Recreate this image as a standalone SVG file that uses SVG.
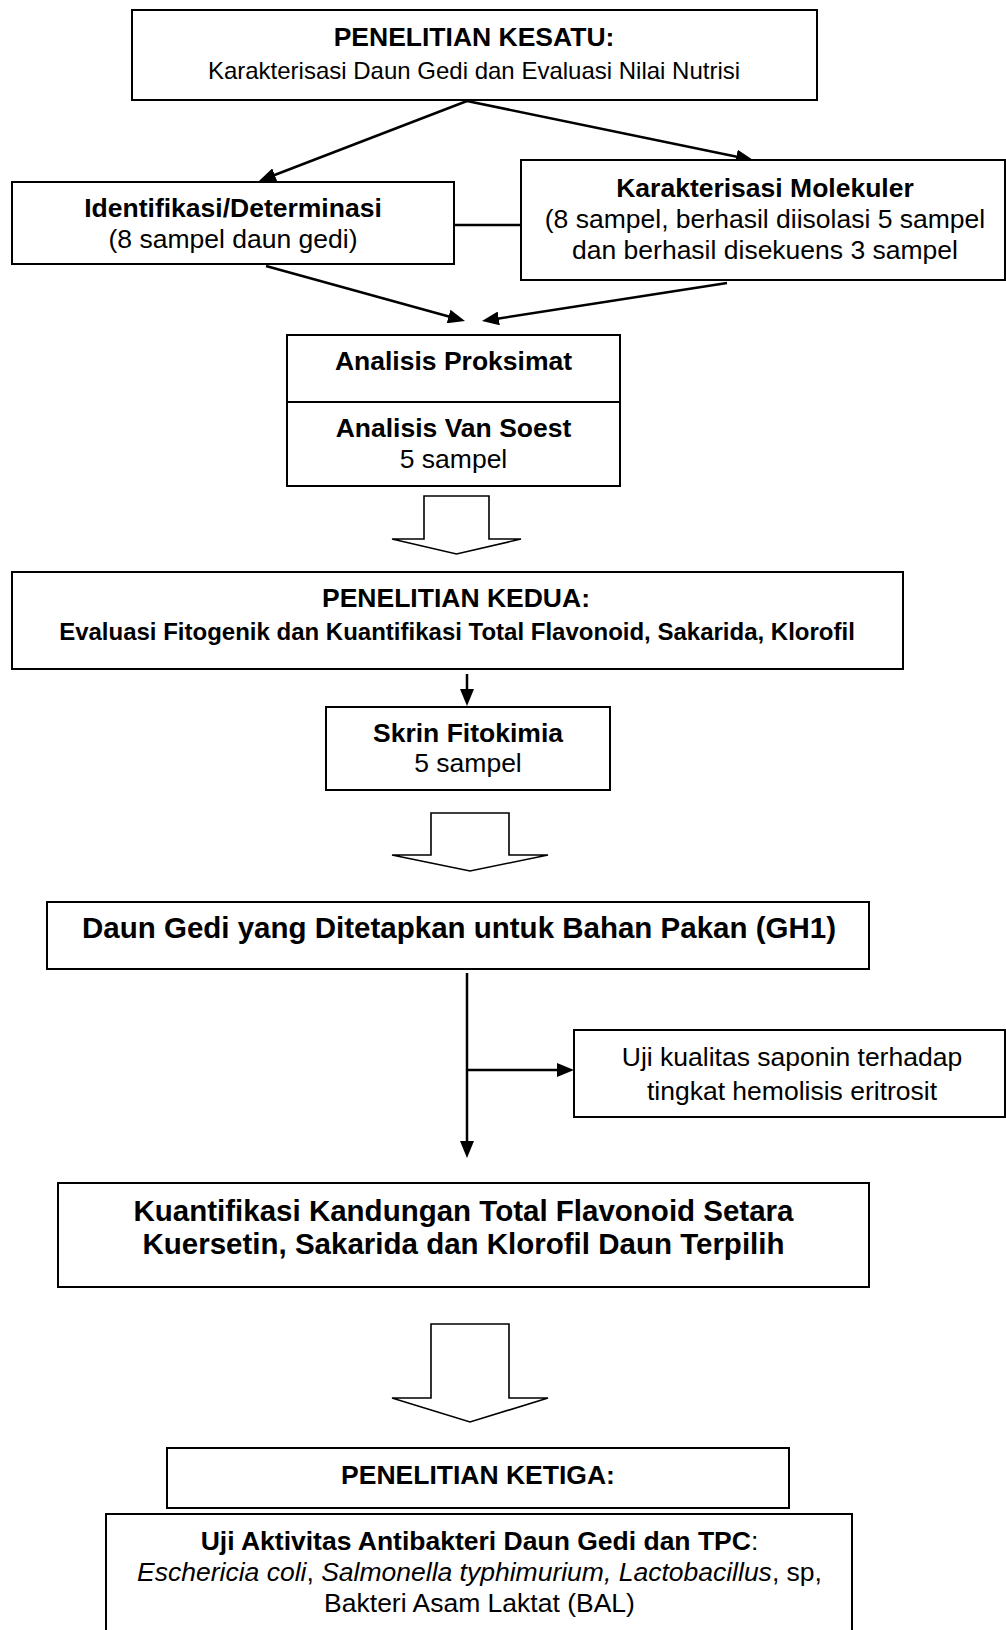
<svg xmlns="http://www.w3.org/2000/svg" width="1006" height="1630" viewBox="0 0 1006 1630">
<style>
text{font-family:"Liberation Sans",Arial,sans-serif;fill:#000;text-anchor:middle}
.b{font-weight:bold;font-size:26.5px}
.r{font-size:26.5px}
.sub{font-size:24px}
.b24{font-weight:bold;font-size:24px}
.big{font-weight:bold;font-size:29.5px}
.box{fill:#fff;stroke:#000;stroke-width:2}
.blk{fill:#fff;stroke:#000;stroke-width:1.6;stroke-linejoin:miter}
.con{fill:none;stroke:#000;stroke-width:2.5}
</style>
<defs>
<marker id="ah" markerUnits="userSpaceOnUse" markerWidth="17" markerHeight="14" refX="3" refY="7" orient="auto">
<path d="M0,0 L17,7 L0,14 z" fill="#000"/>
</marker>
</defs>

<g id="connectors">
<line class="con" x1="467" y1="101" x2="272" y2="176" marker-end="url(#ah)"/>
<line class="con" x1="467" y1="101" x2="739.3" y2="157.2" marker-end="url(#ah)"/>
<line class="con" x1="454" y1="225" x2="521" y2="225"/>
<line class="con" x1="266" y1="266" x2="451.5" y2="317.3" marker-end="url(#ah)"/>
<line class="con" x1="727" y1="283" x2="495.8" y2="318.9" marker-end="url(#ah)"/>
<line class="con" x1="467" y1="674" x2="467" y2="692" marker-end="url(#ah)"/>
<line class="con" x1="467" y1="973" x2="467" y2="1144" marker-end="url(#ah)"/>
<line class="con" x1="467" y1="1070" x2="560" y2="1070" marker-end="url(#ah)"/>
<polygon id="blockarrow1" class="blk" points="424,496 489,496 489,539 521,539 456.5,554 392,539 424,539"/>
<polygon id="blockarrow2" class="blk" points="431,813 509,813 509,855 548,855 470,871 392,855 431,855"/>
<polygon id="blockarrow3" class="blk" points="431,1324 509,1324 509,1398 548,1398 470,1422 392,1398 431,1398"/>
</g>

<g id="node-kesatu">
<rect class="box" x="132" y="10" width="685" height="90"/>
<text class="b" x="474" y="46">PENELITIAN KESATU:</text>
<text class="sub" x="474" y="79">Karakterisasi Daun Gedi dan Evaluasi Nilai Nutrisi</text>
</g>

<g id="node-identifikasi">
<rect class="box" x="12" y="182" width="442" height="82"/>
<text class="b" x="233" y="217">Identifikasi/Determinasi</text>
<text class="r" x="233" y="248">(8 sampel daun gedi)</text>
</g>

<g id="node-molekuler">
<rect class="box" x="521" y="160" width="484" height="120"/>
<text class="b" x="765" y="197">Karakterisasi Molekuler</text>
<text class="r" x="765" y="228">(8 sampel, berhasil diisolasi 5 sampel</text>
<text class="r" x="765" y="259">dan berhasil disekuens 3 sampel</text>
</g>

<g id="node-analisis">
<rect class="box" x="287" y="335" width="333" height="151"/>
<line x1="287" y1="402" x2="620" y2="402" stroke="#000" stroke-width="2"/>
<text class="b" x="453.5" y="370">Analisis Proksimat</text>
<text class="b" x="453.5" y="437">Analisis Van Soest</text>
<text class="r" x="453.5" y="468">5 sampel</text>
</g>

<g id="node-kedua">
<rect class="box" x="12" y="572" width="891" height="97"/>
<text class="b" x="456" y="607">PENELITIAN KEDUA:</text>
<text class="b24" x="457" y="640">Evaluasi Fitogenik dan Kuantifikasi Total Flavonoid, Sakarida, Klorofil</text>
</g>

<g id="node-skrin">
<rect class="box" x="326" y="707" width="284" height="83"/>
<text class="b" x="468" y="742">Skrin Fitokimia</text>
<text class="r" x="468" y="772">5 sampel</text>
</g>

<g id="node-gh1">
<rect class="box" x="47" y="902" width="822" height="67"/>
<text class="big" x="459" y="938">Daun Gedi yang Ditetapkan untuk Bahan Pakan (GH1)</text>
</g>

<g id="node-saponin">
<rect class="box" x="574" y="1030" width="431" height="87"/>
<text class="r" x="792" y="1066">Uji kualitas saponin terhadap</text>
<text class="r" x="792" y="1100">tingkat hemolisis eritrosit</text>
</g>

<g id="node-kuantifikasi">
<rect class="box" x="58" y="1183" width="811" height="104"/>
<text class="big" x="463.5" y="1221">Kuantifikasi Kandungan Total Flavonoid Setara</text>
<text class="big" x="463.5" y="1254">Kuersetin, Sakarida dan Klorofil Daun Terpilih</text>
</g>

<g id="node-ketiga">
<rect class="box" x="167" y="1448" width="622" height="60"/>
<text class="b" x="478" y="1484">PENELITIAN KETIGA:</text>
</g>

<g id="node-antibakteri">
<rect class="box" x="106" y="1514" width="746" height="130"/>
<text class="r" x="479.5" y="1550"><tspan font-weight="bold">Uji Aktivitas Antibakteri Daun Gedi dan TPC</tspan>:</text>
<text class="r" x="479.5" y="1581"><tspan font-style="italic">Eschericia coli</tspan>, <tspan font-style="italic">Salmonella typhimurium, Lactobacillus</tspan>, sp,</text>
<text class="r" x="479.5" y="1612">Bakteri Asam Laktat (BAL)</text>
</g>
</svg>
